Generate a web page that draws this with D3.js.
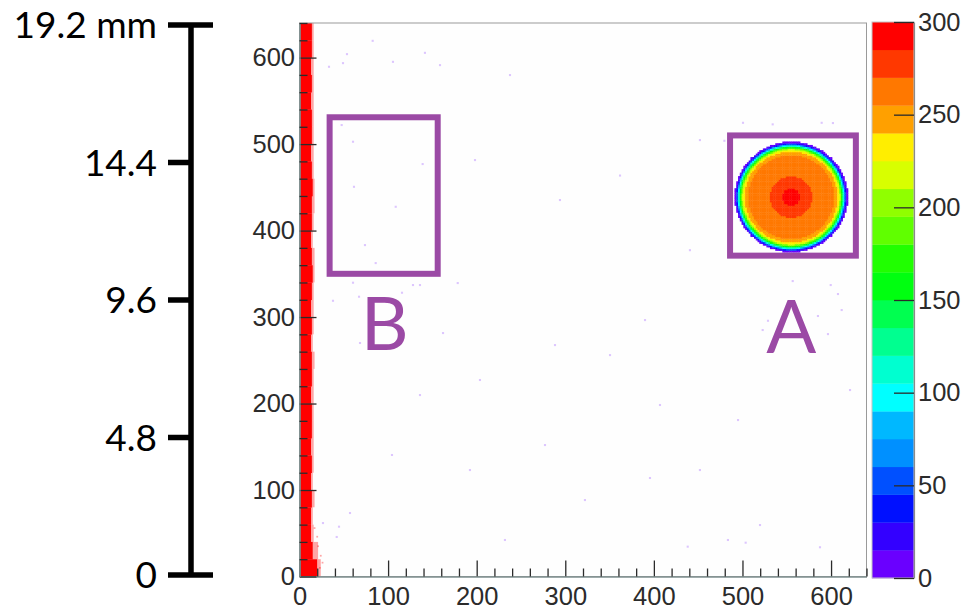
<!DOCTYPE html>
<html>
<head>
<meta charset="utf-8">
<script src="https://cdn.jsdelivr.net/npm/d3@7"></script>
<style>
  body { margin: 0; background: #fff; }
  svg { display: block; }
  .axis text { font-family: "Liberation Sans", Arial, sans-serif; font-size: 25.5px; fill: #2b2b2b; }
</style>
</head>
<body>
<svg id="chart" width="963" height="610"></svg>
<script>
// ---------- data ----------
// detector pixel grid (both axes, pixels)
const pixelDomain = [0, 640];
const pixelTicks = [0, 100, 200, 300, 400, 500, 600];
const pixelMinorStep = 20;

// colour palette: 20 bands covering 0..300 counts
const countDomain = [0, 300];
const countTicks = [0, 50, 100, 150, 200, 250, 300];
const paletteColors = [
  "#6a00ff", "#3300ff", "#0010ff", "#0050ff", "#0090ff",
  "#00b8ff", "#00ffff", "#00ffd0", "#00ff90", "#00ff50",
  "#00ff10", "#20ff00", "#60ff00", "#90ff00", "#d8ff00",
  "#ffee00", "#ffa000", "#ff7800", "#ff3800", "#ff0000"
];

// physical scale bar (mm)
const mmDomain = [0, 19.2];
const mmTicks = [0, 4.8, 9.6, 14.4, 19.2];
const mmLabels = ["0", "4.8", "9.6", "14.4", "19.2 mm"];

// beam spot A: centre (pixels) and radial count profile
const spotCenter = [555, 439];
const spotRadius = [0, 10, 24, 48, 51, 52.5, 54, 55.5, 56.8, 57.8, 58.8, 59.8, 60.8, 61.8, 62.8, 63.8];
const spotCounts = [296, 285, 270, 256, 250, 240, 225, 205, 175, 150, 120, 90, 60, 30, 8, 0];

// saturated edge column at x≈0: full width and fringe per 20-pixel row band (bottom to top)
const stripFull = [20, 15, 13, 13, 14, 13, 14, 13, 14, 14, 13, 14, 14, 13, 14, 13,
                   14, 15, 14, 13, 14, 14, 15, 14, 13, 14, 14, 13, 14, 13, 14, 14];
const stripFringe = [4, 6, 3, 2, 3, 2, 2, 3, 2, 2, 3, 2, 3, 2, 2, 3,
                     2, 2, 3, 2, 2, 3, 2, 2, 3, 2, 2, 3, 2, 3, 2, 2];
const stripCounts = 300;

// isolated red hits next to the edge column (x, y in pixels)
const redHits = [[21, 35], [24, 24], [18, 18], [23, 10], [20, 46], [26, 16], [17, 56]];

// isolated low-count hits (x, y in pixels)
const strayHits = [
  [82.6, 619.4], [53.6, 604], [33.3, 589.4], [49.1, 593.6], [105.5, 595.1], [141.6, 605.5],
  [60.4, 502.7], [139, 476.9], [61.5, 450.6], [108.6, 427.5], [73.9, 383.2], [86, 362.4],
  [47.6, 522], [37.8, 318.8], [67.2, 323.5], [60.4, 339.7], [128.1, 337], [136, 337],
  [178.6, 339.3], [162, 281.5], [68.3, 270], [115.7, 328.1], [57, 73.4], [26.5, 61.8],
  [44.6, 57.6], [42, 45.7], [556.7, 341.6], [599.6, 337], [607.8, 326.6], [612, 308.1],
  [585.2, 301.2], [528.8, 295.7], [522.8, 285], [596.5, 280.3], [438.2, 34.5], [483.6, 42.2],
  [503.6, 39.1], [587.5, 33.8], [500.6, 524.6], [534.1, 522.8], [589.4, 524.6], [602.1, 524.3],
  [479.6, 503.8], [237.6, 579.8], [158.6, 591.3], [452, 504.6], [390, 296.5], [288.4, 267.6],
  [203.7, 227.2], [406.9, 198.3], [395.6, 113.9], [452, 123.1], [104.4, 140.5], [192.4, 123.1],
  [277.1, 152], [350.5, 256], [495, 180.9], [519.8, 59.5], [621.4, 215.6], [361.8, 463.6],
  [231.9, 42.2], [322.2, 88.4], [136, 209.8], [440.7, 377.3], [294, 435.3], [198.1, 481.5]
];
const strayCount = 5;

// regions of interest (pixels) and their labels
const regions = [
  { name: "B", x0: 34, x1: 156, y0: 350, y1: 531, labelX: 96, labelY: 262 },
  { name: "A", x0: 486, x1: 628, y0: 371, y1: 510, labelX: 555, labelY: 258 }
];

// ---------- scales ----------
const svg = d3.select("#chart");
const x = d3.scaleLinear().domain(pixelDomain).range([299.5, 866.5]);
const y = d3.scaleLinear().domain(pixelDomain).range([576.5, 23]);
const color = d3.scaleQuantize().domain(countDomain).range(paletteColors);
const mm = d3.scaleLinear().domain(mmDomain).range([575, 25]);
const cbY = d3.scaleLinear().domain(countDomain).range([578, 22]);

// plot background
svg.append("rect")
  .attr("x", x(0)).attr("y", y(640))
  .attr("width", x(640) - x(0)).attr("height", y(0) - y(640))
  .attr("fill", "#fefefe");

// ---------- histogram cells ----------
const cells = svg.append("g");

// stray single hits
cells.selectAll("rect.stray").data(strayHits).join("rect")
  .attr("class", "stray")
  .attr("x", d => x(d[0] - 1.2)).attr("y", d => y(d[1] + 1.2))
  .attr("width", x(2.4) - x(0)).attr("height", y(0) - y(2.4))
  .attr("fill", color(strayCount)).attr("opacity", 0.22);

// edge column
const stripBands = stripFull.map((w, i) => ({ y0: i * 20, w, f: stripFringe[i] }));
cells.selectAll("rect.strip").data(stripBands).join("rect")
  .attr("class", "strip")
  .attr("x", x(0)).attr("y", d => y(d.y0 + 20))
  .attr("width", d => x(d.w) - x(0)).attr("height", y(0) - y(20) + 0.3)
  .attr("fill", color(stripCounts - 1));
cells.selectAll("rect.fringe").data(stripBands).join("rect")
  .attr("class", "fringe")
  .attr("x", d => x(d.w)).attr("y", d => y(d.y0 + 20))
  .attr("width", d => x(d.f) - x(0)).attr("height", y(0) - y(20))
  .attr("fill", color(stripCounts - 1)).attr("opacity", 0.35);
cells.selectAll("rect.redhit").data(redHits).join("rect")
  .attr("class", "redhit")
  .attr("x", d => x(d[0] - 1)).attr("y", d => y(d[1] + 1))
  .attr("width", x(2) - x(0)).attr("height", y(0) - y(2))
  .attr("fill", color(stripCounts - 1)).attr("opacity", 0.35);

// beam spot A, binned 2x2 pixels
const profile = d3.scaleLinear().domain(spotRadius).range(spotCounts).clamp(true);
const bin = 2;
const spotCells = [];
for (let px = spotCenter[0] - 66; px < spotCenter[0] + 66; px += bin) {
  for (let py = spotCenter[1] - 66; py < spotCenter[1] + 66; py += bin) {
    const r = Math.hypot(px + bin / 2 - spotCenter[0], py + bin / 2 - spotCenter[1]);
    const v = profile(r);
    if (v >= 1) spotCells.push({ px, py, v });
  }
}
cells.selectAll("rect.spot").data(spotCells).join("rect")
  .attr("class", "spot")
  .attr("x", d => x(d.px)).attr("y", d => y(d.py + bin))
  .attr("width", x(bin) - x(0) + 0.4).attr("height", y(0) - y(bin) + 0.4)
  .attr("fill", d => color(Math.min(d.v, 299.9)));

// ---------- frame and axes ----------
svg.append("rect")
  .attr("x", x(0)).attr("y", y(640))
  .attr("width", x(640) - x(0)).attr("height", y(0) - y(640))
  .attr("fill", "none").attr("stroke", "#9a9a9a").attr("stroke-width", 1);

const minorTicks = d3.range(0, 641, pixelMinorStep).filter(v => v % 100 !== 0);

function styleAxis(g) {
  g.select(".domain").attr("stroke", "#7f8f90").attr("stroke-width", 1.2);
  g.selectAll(".tick line").attr("stroke", "#2b2b2b").attr("stroke-width", 1.3);
}

const gx = svg.append("g").attr("class", "axis").attr("transform", `translate(0,${y(0)})`)
  .call(d3.axisBottom(x).tickValues(pixelTicks).tickSizeInner(-16).tickSizeOuter(0).tickPadding(10).tickFormat(d3.format("d")));
gx.call(styleAxis);
svg.append("g").attr("class", "axis").attr("transform", `translate(0,${y(0)})`)
  .call(d3.axisBottom(x).tickValues(minorTicks).tickSizeInner(-8).tickSizeOuter(0).tickFormat(""))
  .call(styleAxis);

const gy = svg.append("g").attr("class", "axis").attr("transform", `translate(${x(0)},0)`)
  .call(d3.axisLeft(y).tickValues(pixelTicks).tickSizeInner(-17).tickSizeOuter(0).tickPadding(4.5).tickFormat(d3.format("d")));
gy.call(styleAxis);
svg.append("g").attr("class", "axis").attr("transform", `translate(${x(0)},0)`)
  .call(d3.axisLeft(y).tickValues(minorTicks).tickSizeInner(-8).tickSizeOuter(0).tickFormat(""))
  .call(styleAxis);

// ---------- regions of interest ----------
const purple = "#9b4aa5";
const roi = svg.append("g");
roi.selectAll("rect").data(regions).join("rect")
  .attr("x", d => x(d.x0)).attr("y", d => y(d.y1))
  .attr("width", d => x(d.x1) - x(d.x0)).attr("height", d => y(d.y0) - y(d.y1))
  .attr("fill", "none").attr("stroke", purple).attr("stroke-width", 6);
roi.selectAll("text").data(regions).join("text")
  .attr("x", d => x(d.labelX)).attr("y", d => y(d.labelY))
  .attr("text-anchor", "middle")
  .attr("font-family", "Lato, 'Open Sans', sans-serif")
  .attr("font-size", 74)
  .attr("fill", purple)
  .text(d => d.name);

// ---------- colour bar ----------
const cbX0 = 872, cbX1 = 914;
const bandStep = (countDomain[1] - countDomain[0]) / paletteColors.length;
const bands = paletteColors.map((c, i) => ({ lo: i * bandStep, hi: (i + 1) * bandStep, c }));
svg.append("g").selectAll("rect").data(bands).join("rect")
  .attr("x", cbX0).attr("y", d => cbY(d.hi))
  .attr("width", cbX1 - cbX0).attr("height", d => cbY(d.lo) - cbY(d.hi) + 0.3)
  .attr("fill", d => d.c);
svg.append("rect")
  .attr("x", cbX0).attr("y", cbY(300))
  .attr("width", cbX1 - cbX0).attr("height", cbY(0) - cbY(300))
  .attr("fill", "none").attr("stroke", "#c4c4c4").attr("stroke-width", 1);
const gc = svg.append("g").attr("class", "axis").attr("transform", `translate(${cbX1},0)`)
  .call(d3.axisRight(cbY).tickValues(countTicks).tickSizeInner(-20).tickSizeOuter(0).tickPadding(4).tickFormat(d3.format("d")));
gc.call(styleAxis);
gc.select(".domain").attr("stroke", "#8a8a8a");

// ---------- physical scale bar ----------
const barX = 191, capL = 168, capR = 213;
const bar = svg.append("g").attr("stroke", "#000").attr("stroke-width", 5.5);
bar.append("line").attr("x1", barX).attr("x2", barX).attr("y1", mm(mmDomain[0])).attr("y2", mm(mmDomain[1]));
bar.selectAll("line.mmtick").data(mmTicks).join("line")
  .attr("class", "mmtick")
  .attr("x1", capL)
  .attr("x2", (d, i) => (i === 0 || i === mmTicks.length - 1) ? capR : barX)
  .attr("y1", d => mm(d)).attr("y2", d => mm(d));
svg.append("g").selectAll("text").data(mmTicks).join("text")
  .attr("x", 157).attr("y", d => mm(d))
  .attr("dy", "0.36em")
  .attr("text-anchor", "end")
  .attr("font-family", "Lato, 'Open Sans', sans-serif")
  .attr("font-size", 37)
  .attr("fill", "#000")
  .text((d, i) => mmLabels[i]);
</script>
</body>
</html>
